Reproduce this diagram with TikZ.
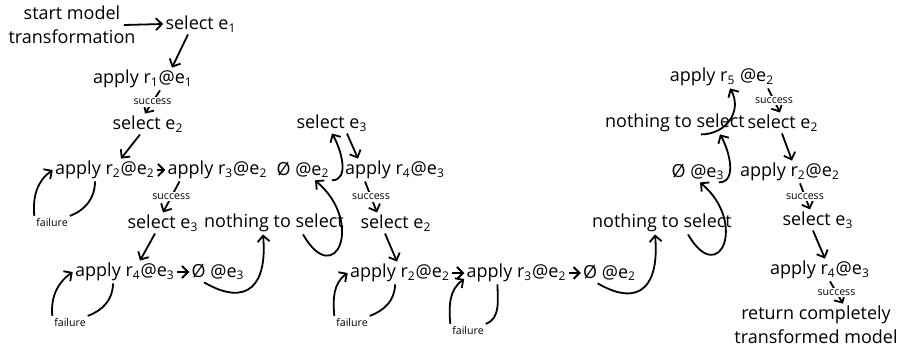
\documentclass[tikz,border=0pt]{standalone}
\usepackage{fontspec}
\setmainfont{Open Sans}
\usepackage{tikz}
\usetikzlibrary{arrows.meta, positioning}
\newcommand{\eid}[1]{e\textsubscript{#1}}
\newcommand{\rid}[1]{r\textsubscript{#1}}

\begin{document}
\begin{tikzpicture}[
    x=0.5pt, y=0.5pt,
    node distance=6pt,
    every node/.style={font=\fontsize{9}{12}\selectfont, inner sep=1pt},
    stage/.style={align=center},
    note/.style={font=\fontsize{5.3}{6}\selectfont, fill=white, inner sep=0.8pt},
    arrow/.style={-{Straight Barb[length=3pt,width=6pt]}, line width=0.9pt},
    plainline/.style={line width=0.9pt}
]
\useasboundingbox (0,0) rectangle (901,-354);

% --- first branch ---
\node[stage] (start) at (72,-25) {start model\\transformation};
\node (sel1) at (201,-24) {select \eid{1}};
\node (app1) at (143,-79) {apply \rid{1}@\eid{1}};
\node (sel2) at (148,-124) {select \eid{2}};
\node (app2a) at (105,-170) {apply \rid{2}@\eid{2}};
\node[right=4pt of app2a] (app3a) {apply \rid{3}@\eid{2}};
\node (emp2a) at (303,-170) {Ø @\eid{2}};
\node (sel3a) at (163,-223) {select \eid{3}};
\node (none1) at (274,-223) {nothing to select};
\node (app4a) at (125,-272) {apply \rid{4}@\eid{3}};
\node[right=of app4a] (emp3a) {Ø @\eid{3}};

% --- second branch ---
\node (sel3b) at (332,-123) {select \eid{3}};
\node (app4b) at (395,-170) {apply \rid{4}@\eid{3}};
\node (sel2b) at (396,-223) {select \eid{2}};
\node (app2b) at (400,-273) {apply \rid{2}@\eid{2}};
\node[right=of app2b] (app3b) {apply \rid{3}@\eid{2}};
\node[right=of app3b] (emp2b) {Ø @\eid{2}};

% --- third branch ---
\node (none2) at (662,-223) {nothing to select};
\node (emp3b) at (698,-172) {Ø @\eid{3}};
\node (none3) at (675,-123) {nothing to select};
\node (app5) at (722,-77) {apply \rid{5} @\eid{2}};
\node (sel2c) at (783,-123) {select \eid{2}};
\node (app2c) at (790,-172) {apply \rid{2}@\eid{2}};
\node (sel3c) at (818,-220) {select \eid{3}};
\node (app4c) at (820,-270) {apply \rid{4}@\eid{3}};
\node[stage] (ret) at (816,-325) {return completely\\transformed model};

% --- failure labels ---
\node[note] (f1) at (52,-222) {failure};
\node[note] (f2) at (70,-322) {failure};
\node[note] (f3) at (352,-322) {failure};
\node[note] (f4) at (468,-330) {failure};

% --- straight connections ---
\draw[arrow] ([xshift=-7pt]start.east) -- (sel1.west);
\draw[arrow] ([xshift=-6.5pt]sel1.south) -- ([xshift=14.5pt]app1.north);
\draw[arrow] ([xshift=8.5pt]app1.south) -- node[note] (s1) {success} ([xshift=-1.5pt]sel2.north);
\draw[arrow] ([xshift=-4pt]sel2.south) -- ([xshift=8pt]app2a.north);
\draw[arrow] (app2a.east) -- (app3a.west);
\draw[arrow] ([xshift=-19pt]app3a.south) -- node[note] (s2) {success} (sel3a.north);
\draw[arrow] ([xshift=-4pt]sel3a.south) -- ([xshift=7.5pt]app4a.north);
\draw[arrow] (app4a.east) -- (emp3a.west);

\draw[arrow] ([xshift=7.5pt]sel3b.south) -- ([xshift=-18.5pt]app4b.north);
\draw[arrow] ([xshift=-15pt]app4b.south) -- node[note] (s3) {success} ([xshift=-9.5pt]sel2b.north);
\draw[arrow] ([xshift=-5.5pt]sel2b.south) -- ([xshift=-1.5pt]app2b.north);
\draw[arrow] (app2b.east) -- (app3b.west);
\draw[arrow] (app3b.east) -- (emp2b.west);

\draw[arrow] ([xshift=23pt]app5.south) -- node[note] (s4) {success} ([xshift=-1.5pt]sel2c.north);
\draw[arrow] ([xshift=-0.5pt]sel2c.south) -- ([xshift=1pt]app2c.north);
\draw[arrow] ([xshift=5pt]app2c.south) -- node[note] (s5) {success} ([xshift=-4pt]sel3c.north);
\draw[arrow] ([xshift=-2.5pt]sel3c.south) -- ([xshift=2.5pt]app4c.north);
\draw[arrow] ([xshift=5pt]app4c.south) -- node[note] (s6) {success} ([xshift=13.5pt]ret.north);

% --- failure loops ---
\draw[plainline] ([xshift=-5pt]app2a.south) to[out=-90,in=20] (f1.north east);
\draw[arrow] (f1.north west) to[out=95,in=215] (app2a.west);
\draw[plainline] ([xshift=-6pt]app4a.south) to[out=-90,in=20] (f2.north east);
\draw[arrow] (f2.north west) to[out=95,in=215] (app4a.west);
\draw[plainline] ([xshift=-2.5pt]app2b.south) to[out=-90,in=20] (f3.north east);
\draw[arrow] (f3.north west) to[out=95,in=215] (app2b.west);
\draw[plainline] ([xshift=-9.5pt]app3b.south) to[out=-90,in=20] (f4.north east);
\draw[arrow] (f4.north west) to[out=95,in=215] ([yshift=-3pt]app3b.west);

% --- backtracking ---
\draw[arrow] ([xshift=-7pt]emp3a.south) to[out=-30,in=-85,looseness=1.7] ([xshift=-5.5pt]none1.south);
\draw[arrow] ([xshift=14.5pt]none1.south) to[out=-60,in=-40,looseness=3] ([xshift=6pt]emp2a.south);
\draw[arrow] (emp2a.south east) to[out=0,in=-60] (sel3b.south);

\draw[arrow] ([xshift=-6pt]emp2b.south) to[out=-30,in=-85,looseness=1.7] ([xshift=-3.5pt]none2.south);
\draw[arrow] ([xshift=13pt]none2.south) to[out=-60,in=-40,looseness=3] ([xshift=1pt]emp3b.south);
\draw[arrow] ([xshift=-4pt]emp3b.south east) to[out=0,in=-60] ([xshift=22.5pt]none3.south);
\draw[arrow] ([xshift=13pt]none3.south) to[out=0,in=-60,looseness=1.2] ([xshift=4pt]app5.south);
\end{tikzpicture}
\end{document}
